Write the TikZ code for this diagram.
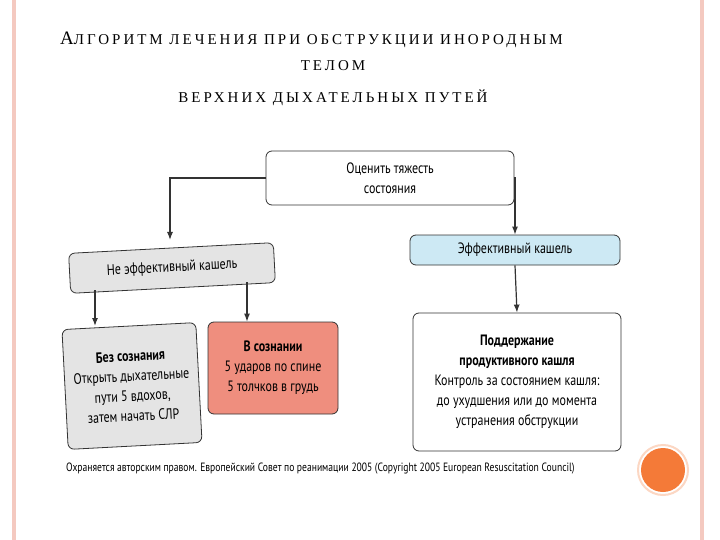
\documentclass[tikz,border=0pt]{standalone}
\usepackage{fontspec}
\setmainfont{Liberation Serif}
\newfontfamily\titlefont[LetterSpace=20]{Liberation Serif}
\newfontfamily\boxfont[FakeStretch=0.8]{PT Sans}
\usetikzlibrary{arrows.meta}
\definecolor{pinkline}{HTML}{F4C9C0}
\definecolor{grayfill}{HTML}{E4E4E4}
\definecolor{bluefill}{HTML}{CDE9F4}
\definecolor{redfill}{HTML}{EF8E7E}
\definecolor{orangec}{HTML}{F47A38}
\tikzset{
  bx/.style={draw=black!80, line width=0.8pt, rounded corners=6pt, align=center, font=\boxfont\fontsize{15}{20}\selectfont, inner sep=3pt},
  arr/.style={draw=black!80, line width=1.2pt, -{Latex[length=8pt,width=6pt]}},
  tt/.style={font=\titlefont\fontsize{15}{17}\selectfont}
}
\begin{document}
\begin{tikzpicture}[x=1pt,y=-1pt]
\useasboundingbox (0,0) rectangle (720,540);
\fill[white] (0,0) rectangle (720,540);
\fill[pinkline] (12,0) rectangle (16,540);
\fill[pinkline] (700,0) rectangle (704,540);
\draw[orangec!30, line width=2pt] (663,470) circle (25);
\fill[orangec] (663,470) circle (22);
% title
\node[tt, anchor=base west, inner sep=0] (t1) at (60,45) {{\fontsize{19}{19}\selectfont А}ЛГОРИТМ ЛЕЧЕНИЯ ПРИ ОБСТРУКЦИИ ИНОРОДНЫМ};
\node[tt, anchor=base, inner sep=0] (t2) at (333,71) {ТЕЛОМ};
\node[tt, anchor=base, inner sep=0] (t3) at (333,103) {ВЕРХНИХ ДЫХАТЕЛЬНЫХ ПУТЕЙ};
% boxes
\node[bx, fill=white, minimum width=248pt, minimum height=54pt] (a) at (390,178) {Оценить тяжесть\\состояния};
\node[bx, fill=grayfill, minimum width=205pt, minimum height=40pt, rotate=3] (b) at (172,268) {Не эффективный кашель};
\node[bx, fill=bluefill, minimum width=210pt, minimum height=30pt] (c) at (515,250) {Эффективный кашель};
\node[bx, fill=grayfill, minimum width=134pt, minimum height=120pt, inner sep=1pt, rotate=3] (d) at (132,386) {\textbf{Без сознания}\\Открыть дыхательные\\пути 5 вдохов,\\затем начать СЛР};
\node[bx, fill=redfill, minimum width=130pt, minimum height=92pt] (e) at (273,368) {\textbf{В сознании}\\5 ударов по спине\\5 толчков в грудь};
\node[bx, fill=white, minimum width=208pt, minimum height=138pt] (f) at (517,382) {\textbf{Поддержание}\\\textbf{продуктивного кашля}\\Контроль за состоянием кашля:\\до ухудшения или до момента\\устранения обструкции};
% arrows
\draw[arr] (a.west) -- (170,178) -- (170,240);
\draw[arr] (a.east) -- (515,178) -- (c.north);
\draw[arr] (c.south) -- (f.north);
\draw[arr] (95,290) -- (95,326);
\draw[arr] (247,282) -- (e.north -| 247,0);
\node[anchor=west, font=\boxfont\fontsize{12}{13}\selectfont, inner sep=0] (g) at (66,469) {Охраняется авторским правом. Европейский Совет по реанимации 2005 (Copyright 2005 European Resuscitation Council)};
\end{tikzpicture}
\end{document}
